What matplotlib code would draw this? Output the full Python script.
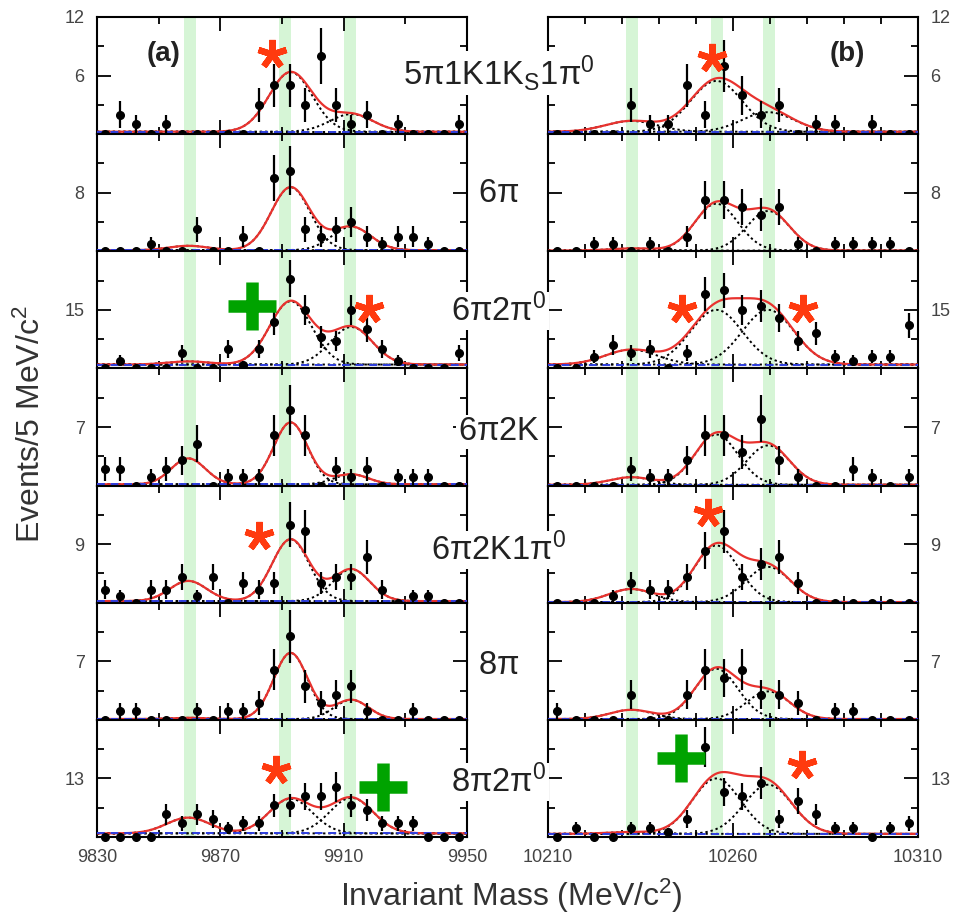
import numpy as np
import matplotlib
matplotlib.use('Agg')
import matplotlib.pyplot as plt

plt.rcParams['font.family'] = ['Liberation Sans', 'DejaVu Sans']
plt.rcParams['mathtext.default'] = 'regular'

# CANAIS DE DECAIMENTO (UMA LINHA POR CANAL)
canais = [r'$5\pi1K1K_S1\pi^0$', r'$6\pi$', r'$6\pi2\pi^0$', r'$6\pi2K$',
          r'$6\pi2K1\pi^0$', r'$8\pi$', r'$8\pi2\pi^0$']
rotulos_y = [6, 8, 15, 7, 9, 7, 13]   # valor marcado no eixo y de cada linha

# CENTROS DOS BINS DE 5 MeV
massa_a = np.arange(9832.5, 9950, 5.0)
massa_b = np.arange(10212.5, 10310, 5.0)

# EVENTOS POR BIN - PAINEL (a)
eventos_a = [
    [0, 2, 1, 0, 1, 0, 0, 0, 0, 0, 3, 5, 5, 3, 8, 3, 1, 2, 0, 1, 0, 0, 0, 1],
    [0, 0, 0, 1, 0, 0, 3, 0, 0, 2, 0, 10, 11, 3, 2, 3, 4, 2, 1, 2, 2, 1, 0, 0],
    [0, 2, 0, 0, 0, 4, 0, 0, 5, 1, 5, 12, 23, 15, 8, 7, 15, 10, 5, 2, 0, 0, 0, 4],
    [2, 2, 0, 1, 2, 3, 5, 0, 1, 1, 1, 6, 9, 6, 0, 2, 1, 2, 0, 1, 1, 1, 0, 0],
    [2, 1, 0, 2, 2, 4, 1, 4, 0, 3, 2, 3, 12, 11, 3, 4, 4, 7, 2, 0, 1, 1, 0, 0],
    [0, 1, 1, 0, 0, 0, 1, 0, 1, 1, 2, 6, 10, 4, 2, 3, 4, 1, 0, 0, 1, 0, 0, 0],
    [0, 0, 0, 0, 5, 3, 5, 4, 2, 3, 3, 7, 7, 9, 9, 11, 7, 6, 3, 3, 3, 0, 0, 0],
]

# EVENTOS POR BIN - PAINEL (b)
eventos_b = [
    [0, 0, 0, 0, 3, 1, 1, 5, 2, 7, 4, 2, 3, 0, 1, 1, 0, 1, 0, 0],
    [0, 0, 1, 1, 0, 1, 0, 2, 7, 7, 6, 5, 6, 1, 0, 1, 1, 1, 1, 0],
    [0, 0, 3, 6, 4, 5, 0, 4, 19, 20, 15, 16, 13, 7, 9, 3, 2, 3, 3, 11],
    [0, 0, 0, 0, 2, 1, 1, 3, 6, 6, 4, 8, 3, 1, 0, 0, 2, 1, 0, 1],
    [0, 0, 0, 1, 3, 2, 2, 4, 8, 11, 4, 6, 7, 3, 0, 0, 0, 0, 0, 0],
    [1, 0, 0, 0, 3, 0, 0, 3, 6, 5, 6, 3, 3, 2, 0, 1, 1, 0, 0, 0],
    [0, 2, 0, 0, 2, 2, 1, 4, 20, 10, 9, 12, 4, 8, 5, 2, 2, 0, 2, 3],
]

# PARAMETROS DO AJUSTE (chi_b0, chi_b1, chi_b2)
picos_a = [9859.6, 9892.8, 9912.5]
picos_b = [10232.5, 10255.5, 10269.5]
amp_a = [[0.0, 6.1, 1.8], [0.6, 8.6, 3.2], [0.8, 16.2, 9.6], [3.1, 7.4, 1.2],
         [3.1, 9.5, 4.9], [0.15, 7.9, 2.3], [3.5, 7.7, 7.9]]
amp_b = [[1.1, 5.2, 2.0], [0.3, 6.4, 5.4], [3.8, 14.0, 14.0], [0.9, 6.0, 4.7],
         [2.0, 8.7, 5.4], [1.1, 6.0, 3.3], [0.4, 12.3, 10.9]]
sigma_a = [7.0, 6.3, 6.8, 5.5, 6.0, 5.5, 7.0]
sigma_b = [7.0, 5.8, 7.0, 5.8, 6.0, 5.8, 6.5]
fundo_a = [0.25, 0.15, 1.0, 0.15, 0.25, 0.1, 0.8]
fundo_b = [0.25, 0.1, 1.0, 0.1, 0.1, 0.1, 0.7]

# FAIXAS VERDES NAS MASSAS CONHECIDAS
faixas_a = [9860.2, 9891.0, 9912.0]
faixas_b = [10232.6, 10255.6, 10269.8]

# MARCAS: ASTERISCOS E CRUZES (linha, massa, eventos)
asteriscos_a = [(0, 9886.9, 8.2), (2, 9918.2, 15.3), (4, 9882.4, 10.3), (6, 9887.9, 14.9)]
asteriscos_b = [(0, 10254.3, 7.8), (2, 10246.2, 15.3), (2, 10278.8, 15.3),
                (4, 10253.2, 13.8), (6, 10278.6, 16.0)]
cruzes_a = [(2, 9880.4, 15.9), (6, 9922.6, 11.2)]
cruzes_b = [(6, 10245.9, 17.5)]

VERMELHO = '#e8322e'
VERDE = '#00a300'


def gauss(x, a, m, s):
    return a * np.exp(-0.5 * ((x - m) / s) ** 2)


# FUNCAO PARA DESENHAR UM PAINEL
def desenhar(ax, massa, n, picos, amps, sigma, fundo, faixas, largura, xlim, ymax):
    for f in faixas:
        ax.axvspan(f - largura / 2, f + largura / 2, color='#d6f5d6', lw=0, zorder=0)

    x = np.linspace(xlim[0], xlim[1], 600)
    total = np.full_like(x, fundo)
    for a, m in zip(amps, picos):
        comp = gauss(x, a, m, sigma)
        total += comp
        ax.plot(x, comp + fundo, ls=(0, (1.2, 1.5)), color='black', lw=1.4, zorder=2)
    ax.plot(x, total, color=VERMELHO, lw=1.6, zorder=3)
    ax.plot(x, np.full_like(x, fundo), color='#2f3fe0', lw=1.4, ls=(0, (4, 3)), zorder=4)

    n = np.array(n, dtype=float)
    erro = np.sqrt(n)
    ax.errorbar(massa, n, yerr=erro, fmt='o', color='black', ms=5.5, elinewidth=1.6,
                capsize=0, zorder=5, clip_on=False)

    ax.set_xlim(xlim)
    ax.set_ylim(0, ymax)
    for lado in ax.spines.values():
        lado.set_linewidth(1.5)


fig = plt.figure(figsize=(9.67, 9.18), dpi=100)
W, H = 967.0, 918.0
alt = 820.0 / 7

for i in range(7):
    L = rotulos_y[i]
    y0 = (H - 17 - (i + 1) * alt) / H
    ax_a = fig.add_axes([97 / W, y0, 370 / W, alt / H])
    ax_b = fig.add_axes([548 / W, y0, 370 / W, alt / H])

    desenhar(ax_a, massa_a, eventos_a[i], picos_a, amp_a[i], sigma_a[i], fundo_a[i],
             faixas_a, 3.8, (9830, 9950), 2 * L)
    desenhar(ax_b, massa_b, eventos_b[i], picos_b, amp_b[i], sigma_b[i], fundo_b[i],
             faixas_b, 3.2, (10210, 10310), 2 * L)

    ax_a.set_xticks([9830, 9870, 9910, 9950])
    ax_a.set_xticks([9850, 9890, 9930], minor=True)
    ax_b.set_xticks([10210, 10260, 10310])
    ax_b.set_xticks(np.arange(10220, 10310, 10), minor=True)

    for ax, esquerda in ((ax_a, True), (ax_b, False)):
        ax.set_yticks([L, 2 * L] if i == 0 else [L])
        ax.set_yticks([L / 2, 1.5 * L], minor=True)
        ax.tick_params(which='both', direction='in', top=True, right=True,
                       labelsize=13, labelcolor='#444444', width=1.3,
                       labelleft=esquerda, labelright=not esquerda,
                       labelbottom=(i == 6))
        ax.tick_params(which='major', length=10, pad=9)
        ax.tick_params(which='minor', length=5)

    # ASTERISCOS E CRUZES
    for lin, xm, ym in asteriscos_a:
        if lin == i:
            ax_a.plot(xm, ym, marker=(5, 2, 0), ms=21, mew=4.5, color='#ff3a0f', zorder=7)
    for lin, xm, ym in asteriscos_b:
        if lin == i:
            ax_b.plot(xm, ym, marker=(5, 2, 0), ms=21, mew=4.5, color='#ff3a0f', zorder=7)
    for lin, xm, ym in cruzes_a:
        if lin == i:
            ax_a.plot(xm, ym, marker='+', ms=34, mew=9, color=VERDE, zorder=7)
    for lin, xm, ym in cruzes_b:
        if lin == i:
            ax_b.plot(xm, ym, marker='+', ms=34, mew=9, color=VERDE, zorder=7)

    if i == 0:
        ax_a.text(0.18, 0.68, '(a)', transform=ax_a.transAxes, fontsize=20,
                  fontweight='bold', ha='center', va='center', color='#222222')
        ax_b.text(0.81, 0.68, '(b)', transform=ax_b.transAxes, fontsize=20,
                  fontweight='bold', ha='center', va='center', color='#222222')

# NOMES DOS CANAIS ENTRE OS PAINEIS (fundo branco cobre as bordas)
pos_y = [73, 193, 311, 432, 550, 665, 782]
for nome, yp in zip(canais, pos_y):
    fig.text(499 / W, 1 - yp / H, nome, fontsize=23.5, ha='center', va='center',
             color='#222222', zorder=10,
             bbox=dict(facecolor='white', edgecolor='none', pad=1.5))

fig.text(31 / W, 1 - 424 / H, r'Events/5 MeV/c$^2$', rotation=90, fontsize=23,
         ha='center', va='center', color='#333333')
fig.text(511 / W, 1 - 896 / H, r'Invariant Mass (MeV/c$^2$)', fontsize=23,
         ha='center', va='center', color='#333333')

plt.savefig('out.png', dpi=100)
